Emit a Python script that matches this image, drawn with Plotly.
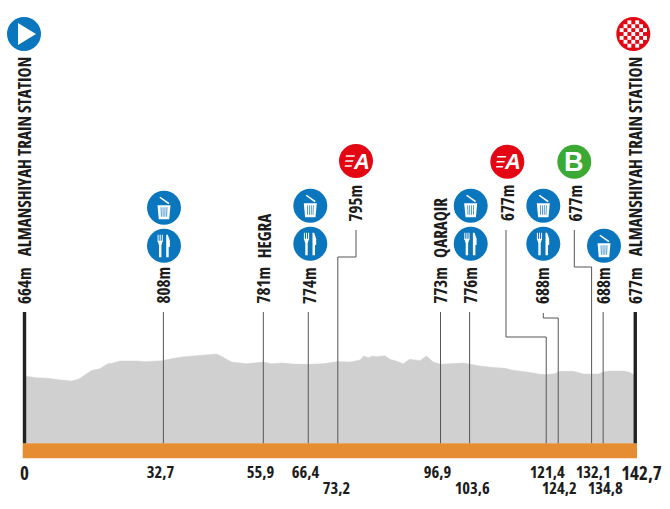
import plotly.graph_objects as go

W, H = 670, 509
FONT = "Open Sans"
INK = "#1c1c1c"
BLUE = "#0a76bd"
RED = "#e30613"
GREEN = "#3aaa35"

# profile
profile_km = [0, 2.8, 5.6, 7.9, 11.0, 12.6, 14.1, 15.7, 17.6, 19.6, 20.4, 22.3, 26.6, 28.2, 32.4, 33.6,
              36.7, 40.2, 43.4, 44.9, 46.4, 48.4, 51.9, 55.8, 57.7, 60.1, 62.8, 66.3, 69.8, 72.5, 73.2,
              76.1, 78.4, 79.2, 80.3, 81.3, 82.3, 84.2, 85.4, 87.3, 88.5, 90.0, 92.4, 93.9, 95.5, 97.2,
              99.8, 102.5, 104.0, 106.0, 109.1, 112.3, 113.8, 116.2, 118.5, 120.4, 121.9, 123.9, 125.1,
              128.2, 130.6, 132.5, 134.1, 135.2, 136.8, 139.9, 141.4, 142.2, 142.7]
profile_m = [664, 648, 642, 629, 617, 633, 677, 717, 733, 783, 783, 805, 805, 799, 809, 821,
             843, 856, 862, 872, 840, 796, 780, 796, 780, 787, 777, 774, 780, 799, 800,
             796, 815, 853, 837, 853, 846, 856, 821, 799, 780, 821, 809, 853, 796, 774,
             777, 787, 777, 761, 746, 736, 721, 711, 695, 680, 677, 686, 708,
             708, 683, 683, 683, 702, 711, 711, 699, 677, 677]

# km markers: label, drawn position
km_labels = ["32,7", "55,9", "66,4", "73,2", "96,9", "103,6", "121,4", "124,2", "132,1", "134,8"]
km_drawn = [32.45, 55.8, 66.3, 73.2, 97.2, 104.0, 121.9, 124.7, 132.5, 135.2]
km_label_x = [160, 260, 306, 336, 437.7, 471.7, 547.7, 559, 592.7, 605]
km_label_y = [471, 471, 471, 487.5, 471, 487.5, 471, 487.5, 471, 487.5]
# route of each leader, as (x px, y px) steps above the foot of the line
leaders = [[(None, 312)], [(None, 312)], [(None, 312)],
           [(None, 257), (356, 257), (356, 230)],
           [(None, 312)], [(None, 312)],
           [(None, 337), (506, 337), (506, 230)],
           [(None, 318), (543.3, 318), (543.3, 313)],
           [(None, 267), (574.3, 267), (574.3, 230)],
           [(None, 312)]]

# x(px), centre(px), text
height_labels = [(24, 285.5, "664m"), (163.5, 285.5, "808m"), (263.5, 285.5, "781m"), (309, 285.5, "774m"),
                 (355, 203, "795m"), (440.7, 285.5, "773m"), (470.7, 285.5, "776m"), (506.7, 203, "677m"),
                 (542, 285.5, "688m"), (575, 203, "677m"), (603, 285.5, "688m"), (635, 285.5, "677m")]
place_labels = [(24, 157, "ALMANSHIYAH TRAIN STATION"), (264, 236, "HEGRA"),
                (440.7, 227.5, "QARAQIR"), (635, 157, "ALMANSHIYAH TRAIN STATION")]

bins = [(164, 207.7), (310.3, 205.7), (470.7, 205.7), (543.3, 205.7), (604, 245.7)]
forks = [(164, 245.7), (310.3, 243.7), (470.7, 243.7), (543.3, 243.7)]
sprints = [(356, 161), (507.3, 161.7)]
bonus = [(574.3, 161.7)]
start_icon = (24, 34)
finish_icon = (633.3, 34)

# scales: pixel <-> data
X0_PX, PX_PER_KM = 24.5, 4.28
Y_REF_PX, Y_REF_M, PX_PER_M = 376.0, 664.0, 0.106
BASE_PX, BAND_PX = 443.3, 458.3
def px2km(p): return (p - X0_PX) / PX_PER_KM
def py2m(p): return Y_REF_M + (Y_REF_PX - p) / PX_PER_M
def fx(p): return p / W
def fy(p): return 1 - p / H
base_m = py2m(BASE_PX)

fig = go.Figure()
# profile
fig.add_trace(go.Scatter(x=[profile_km[0]] + profile_km + [profile_km[-1]],
                         y=[base_m] + profile_m + [base_m],
                         mode="lines", fill="toself", fillcolor="#d0d0d0",
                         line=dict(color="#d0d0d0", width=0.5), hoverinfo="skip"))
# orange band
fig.add_trace(go.Scatter(x=[px2km(22.7), px2km(637), px2km(637), px2km(22.7), px2km(22.7)],
                         y=[base_m, base_m, py2m(BAND_PX), py2m(BAND_PX), base_m],
                         mode="lines", fill="toself", fillcolor="#e68c33",
                         line=dict(color="#e68c33", width=0), hoverinfo="skip"))
# start/finish posts
for k in (0, 142.7):
    fig.add_trace(go.Scatter(x=[k, k], y=[base_m, py2m(312)], mode="lines",
                             line=dict(color="#222222", width=3.4), hoverinfo="skip"))
# leaders
for k, route in zip(km_drawn, leaders):
    xs, ys = [k], [base_m]
    for px, py in route:
        xs.append(k if px is None else px2km(px))
        ys.append(py2m(py))
    fig.add_trace(go.Scatter(x=xs, y=ys, mode="lines",
                             line=dict(color="#555555", width=1), hoverinfo="skip"))

# icon discs
def discs(pts, color):
    fig.add_trace(go.Scatter(x=[px2km(p[0]) for p in pts], y=[py2m(p[1]) for p in pts], mode="markers",
                             marker=dict(size=34, color=color, line=dict(width=0)), hoverinfo="skip"))
discs(bins + forks + [start_icon], BLUE)
discs(sprints + [finish_icon], RED)
discs(bonus, GREEN)

shapes = []
def path(points, color="white"):
    d = "M " + " L ".join(f"{fx(a):.5f},{fy(b):.5f}" for a, b in points) + " Z"
    shapes.append(dict(type="path", xref="paper", yref="paper", path=d,
                       fillcolor=color, line=dict(color=color, width=0)))

def bin_icon(cx, cy):
    path([(cx - 4.6, cy - 10), (cx - 3.6, cy - 11), (cx + 5.4, cy - 4.6), (cx + 4.4, cy - 3.4)])
    path([(cx - 6.5, cy - 2.5), (cx + 6.5, cy - 2.5), (cx + 5.2, cy + 11.5), (cx - 5.2, cy + 11.5)])
    for dx in (-3, -1, 1, 3):
        path([(cx + dx - 0.35, cy - 0.5), (cx + dx + 0.35, cy - 0.5), (cx + dx * 0.9 + 0.35, cy + 9), (cx + dx * 0.9 - 0.35, cy + 9)], BLUE)

def fork_icon(cx, cy):
    f = cx - 3.8
    for dx in (-2.1, 0, 2.1):
        path([(f + dx - 0.5, cy - 11), (f + dx + 0.5, cy - 11), (f + dx + 0.5, cy - 4), (f + dx - 0.5, cy - 4)])
    path([(f - 2.6, cy - 5), (f + 2.6, cy - 5), (f + 1.2, cy - 0.5), (f + 1.2, cy + 11.5), (f - 1.2, cy + 11.5), (f - 1.2, cy - 0.5)])
    k = cx + 3.5
    path([(k - 1.3, cy - 11), (k + 0.3, cy - 11), (k + 2.4, cy - 5), (k + 2.4, cy + 1),
          (k + 1.2, cy + 1.5), (k + 1.2, cy + 11.5), (k - 1.3, cy + 11.5)])

for b in bins: bin_icon(*b)
for f in forks: fork_icon(*f)

# start triangle
sx, sy = start_icon
path([(sx - 6, sy - 11), (sx + 12, sy), (sx - 6, sy + 11)])
# finish chequer
fx0, fy0 = finish_icon
cell = 3.9
for r in range(-3, 4):
    for c in range(-3, 4):
        if (r + c) % 2 == 0 and (r * r + c * c) <= 10:
            cx, cy = fx0 + c * cell, fy0 + r * cell
            path([(cx - cell / 2, cy - cell / 2), (cx + cell / 2, cy - cell / 2),
                  (cx + cell / 2, cy + cell / 2), (cx - cell / 2, cy + cell / 2)])
# speed lines on sprint icons
for cx, cy in sprints:
    for i, dy in enumerate((-5, 0, 5)):
        x1 = cx - 1 - i * 1.5
        path([(x1 - 9 + i, cy + dy - 0.8), (x1, cy + dy - 0.8), (x1 - 0.5, cy + dy + 0.8), (x1 - 9.5 + i, cy + dy + 0.8)])

ann = []
def rot(x, centre, t, size=17):
    ann.append(dict(xref="paper", yref="paper", x=fx(x), y=fy(centre), text=t, textangle=-90,
                    showarrow=False, xanchor="center", yanchor="middle",
                    font=dict(family=FONT, size=size, color=INK), borderpad=0, borderwidth=0))
for x, c, t in height_labels:
    rot(x, c, f"<b>{t}</b>")
for x, c, t in place_labels:
    rot(x, c, f"<b>{t}</b>")
def flat(x, y, t, size=16.5, color=INK, family=FONT):
    ann.append(dict(xref="paper", yref="paper", x=fx(x), y=fy(y), text=t, showarrow=False,
                    xanchor="center", yanchor="middle", font=dict(family=family, size=size, color=color)))
for x, y, t in zip(km_label_x, km_label_y, km_labels):
    flat(x, y, f"<b>{t}</b>")
flat(25, 473, "<b>0</b>", 19)
flat(641.7, 473, "<b>142,7</b>", 19)
for cx, cy in sprints:
    flat(cx + 5.5, cy, "<b><i>A</i></b>", 22, "white", "Liberation Sans")
for cx, cy in bonus:
    flat(cx, cy, "<b>B</b>", 27, "white", "Liberation Sans")

fig.update_layout(width=W, height=H, margin=dict(l=0, r=0, t=0, b=0), showlegend=False,
                  paper_bgcolor="white", plot_bgcolor="white", shapes=shapes, annotations=ann,
                  xaxis=dict(visible=False, range=[px2km(0), px2km(W)], fixedrange=True),
                  yaxis=dict(visible=False, range=[py2m(H), py2m(0)], fixedrange=True))
POST = ("document.body.style.margin='0';document.documentElement.style.overflow='hidden';"
        "var s=document.createElement('style');s.textContent='.annotation-text{font-stretch:75%}';"
        "document.head.appendChild(s);Plotly.relayout(document.querySelector('.plotly-graph-div'),{});")
fig.write_html("out.html", config=dict(displayModeBar=False), post_script=POST)
